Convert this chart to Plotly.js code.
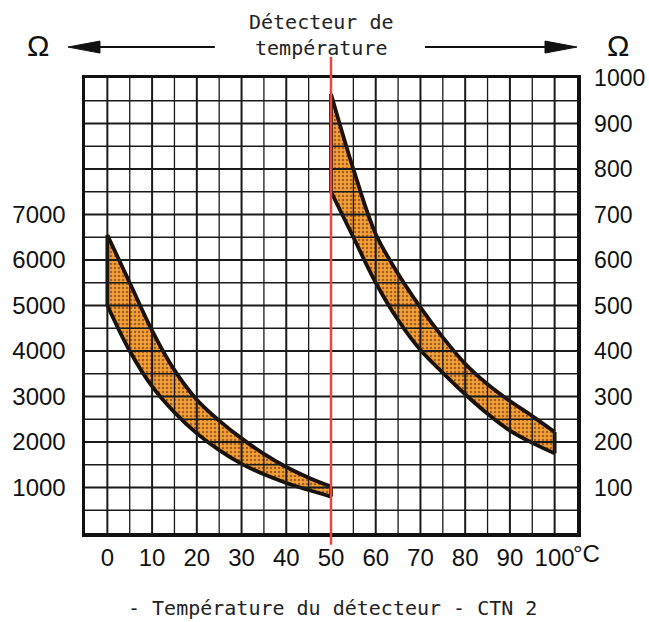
<!DOCTYPE html>
<html>
<head>
<meta charset="utf-8">
<script src="https://cdn.plot.ly/plotly-3.0.1.min.js"></script>
<style>html,body{margin:0;padding:0;background:#fff;}</style>
</head>
<body>
<div id="chart" style="width:649px;height:622px;"></div>
<script>
// ---- data ----
const temperaturesLow = [0, 5, 10, 15, 20, 25, 30, 35, 40, 45, 50];
const upperLow = [6550, 5500, 4450, 3580, 2930, 2470, 2080, 1740, 1450, 1215, 1020];
const lowerLow = [5000, 4000, 3220, 2650, 2190, 1820, 1520, 1290, 1100, 945, 800];

const temperaturesHigh = [50, 55, 60, 65, 70, 75, 80, 85, 90, 95, 100];
const upperHigh = [965, 800, 657, 570, 496, 430, 372, 327, 290, 257, 222];
const lowerHigh = [750, 650, 550, 468, 402, 352, 305, 262, 225, 198, 175];

const xTickVals = [0, 10, 20, 30, 40, 50, 60, 70, 80, 90, 100];
const xTickText = ['0', '10', '20', '30', '40', '50', '60', '70', '80', '90', '100'];
const leftTickVals = [1000, 2000, 3000, 4000, 5000, 6000, 7000];
const leftTickText = ['1000', '2000', '3000', '4000', '5000', '6000', '7000'];
const rightTickVals = [100, 200, 300, 400, 500, 600, 700, 800, 900, 1000];
const rightTickText = ['100', '200', '300', '400', '500', '600', '700', '800', '900', '1000'];

// ---- styles ----
const tickFont = {family: '"Liberation Sans", Arial, sans-serif', size: 24, color: '#111'};
const rightTickFont = {family: '"Liberation Sans", Arial, sans-serif', size: 23, color: '#111'};
const monoFont = {family: '"DejaVu Sans Mono", "Liberation Mono", monospace', size: 20, color: '#222'};
const outline = '#1a120a';
const pattern = {shape: '.', bgcolor: '#f2a03a', fgcolor: '#8a4510', fgopacity: 0.75, size: 4, solidity: 0.3};

function band(temps, upper, lower, yaxis) {
  const xs = temps.concat(temps.slice().reverse());
  const ys = upper.concat(lower.slice().reverse());
  const n = temps.length - 1;
  return [
    {x: xs, y: ys, yaxis: yaxis, type: 'scatter', mode: 'lines', fill: 'toself',
     fillcolor: '#f2a03a', fillpattern: pattern, line: {width: 0}, hoverinfo: 'skip', showlegend: false},
    {x: temps, y: upper, yaxis: yaxis, type: 'scatter', mode: 'lines',
     line: {color: outline, width: 3.8, shape: 'spline', smoothing: 1}, showlegend: false},
    {x: temps, y: lower, yaxis: yaxis, type: 'scatter', mode: 'lines',
     line: {color: outline, width: 3.8, shape: 'spline', smoothing: 1}, showlegend: false},
    {x: [temps[0], temps[0], null, temps[n], temps[n]], y: [upper[0], lower[0], null, upper[n], lower[n]],
     yaxis: yaxis, type: 'scatter', mode: 'lines', line: {color: outline, width: 3.8}, showlegend: false}
  ];
}

const data = band(temperaturesLow, upperLow, lowerLow, 'y')
  .concat(band(temperaturesHigh, upperHigh, lowerHigh, 'y2'));

// grid lines drawn above the fills (as in the printed chart)
const shapes = [];
for (let t = 0; t <= 100; t += 5) {
  shapes.push({type: 'line', xref: 'x', yref: 'paper', x0: t, x1: t, y0: 0, y1: 1, layer: 'above',
    line: {color: '#1a1a1a', width: t % 10 === 0 ? 2 : 1.3}});
}
for (let r = 50; r <= 950; r += 50) {
  shapes.push({type: 'line', xref: 'paper', yref: 'y2', x0: 0, x1: 1, y0: r, y1: r, layer: 'above',
    line: {color: '#1a1a1a', width: r % 100 === 0 ? 2 : 1.3}});
}
// red separator at 50 °C
shapes.push({type: 'line', xref: 'x', yref: 'paper', x0: 50, x1: 50, y0: -0.026, y1: 1.046, layer: 'above',
  line: {color: '#e8473f', width: 2.5}});
// arrows
const arrowY = 1.068;
shapes.push({type: 'line', xref: 'paper', yref: 'paper', x0: 0.0, x1: 0.264, y0: arrowY, y1: arrowY, line: {color: '#111', width: 2}});
shapes.push({type: 'line', xref: 'paper', yref: 'paper', x0: 0.691, x1: 0.98, y0: arrowY, y1: arrowY, line: {color: '#111', width: 2}});
shapes.push({type: 'path', xref: 'paper', yref: 'paper', xsizemode: 'pixel', ysizemode: 'pixel',
  xanchor: -0.0346, yanchor: arrowY, path: 'M0,0 L32,6 L32,-6 Z', fillcolor: '#111', line: {color: '#111', width: 1}});
shapes.push({type: 'path', xref: 'paper', yref: 'paper', xsizemode: 'pixel', ysizemode: 'pixel',
  xanchor: 1.0, yanchor: arrowY, path: 'M0,0 L-32,6 L-32,-6 Z', fillcolor: '#111', line: {color: '#111', width: 1}});

const omegaFont = {family: '"Liberation Sans", sans-serif', size: 30, color: '#111'};
const annotations = [
  {text: 'Détecteur de<br>température', xref: 'paper', yref: 'paper', x: 0.4817, y: 1.0956,
   xanchor: 'center', yanchor: 'middle', showarrow: false, font: monoFont},
  {text: 'Ω', xref: 'paper', yref: 'paper', x: -0.0955, y: 1.0725, xanchor: 'center', yanchor: 'middle',
   showarrow: false, font: omegaFont},
  {text: 'Ω', xref: 'paper', yref: 'paper', x: 1.083, y: 1.0725, xanchor: 'center', yanchor: 'middle',
   showarrow: false, font: omegaFont},
  {text: '°C', xref: 'x', yref: 'paper', x: 100, y: -0.046, xanchor: 'left', yanchor: 'middle', xshift: 16,
   showarrow: false, font: tickFont},
  {text: '- Température du détecteur - CTN 2', xref: 'paper', yref: 'paper', x: 0.504, y: -0.165,
   xanchor: 'center', yanchor: 'middle', showarrow: false, font: monoFont}
];

const layout = {
  width: 649, height: 622,
  margin: {l: 85, r: 72, t: 78, b: 89},
  paper_bgcolor: '#ffffff', plot_bgcolor: '#ffffff',
  showlegend: false,
  xaxis: {range: [-5, 105], tickmode: 'array', tickvals: xTickVals, ticktext: xTickText,
    showgrid: false, zeroline: false, ticks: '', tickfont: tickFont, ticklabelstandoff: 1,
    showline: true, mirror: true, linewidth: 3.5, linecolor: '#111', fixedrange: true},
  yaxis: {range: [0, 10000], tickmode: 'array', tickvals: leftTickVals, ticktext: leftTickText,
    showgrid: false, zeroline: false, ticks: '', tickfont: tickFont, ticklabelstandoff: 11,
    showline: true, linewidth: 3.5, linecolor: '#111', fixedrange: true},
  yaxis2: {range: [0, 1000], overlaying: 'y', side: 'right', tickmode: 'array', tickvals: rightTickVals,
    ticktext: rightTickText, showgrid: false, zeroline: false, ticks: '', tickfont: rightTickFont,
    ticklabelstandoff: 9, showline: true, linewidth: 3.5, linecolor: '#111', fixedrange: true},
  shapes: shapes,
  annotations: annotations
};

Plotly.newPlot('chart', data, layout, {staticPlot: true, displayModeBar: false});
</script>
</body>
</html>
